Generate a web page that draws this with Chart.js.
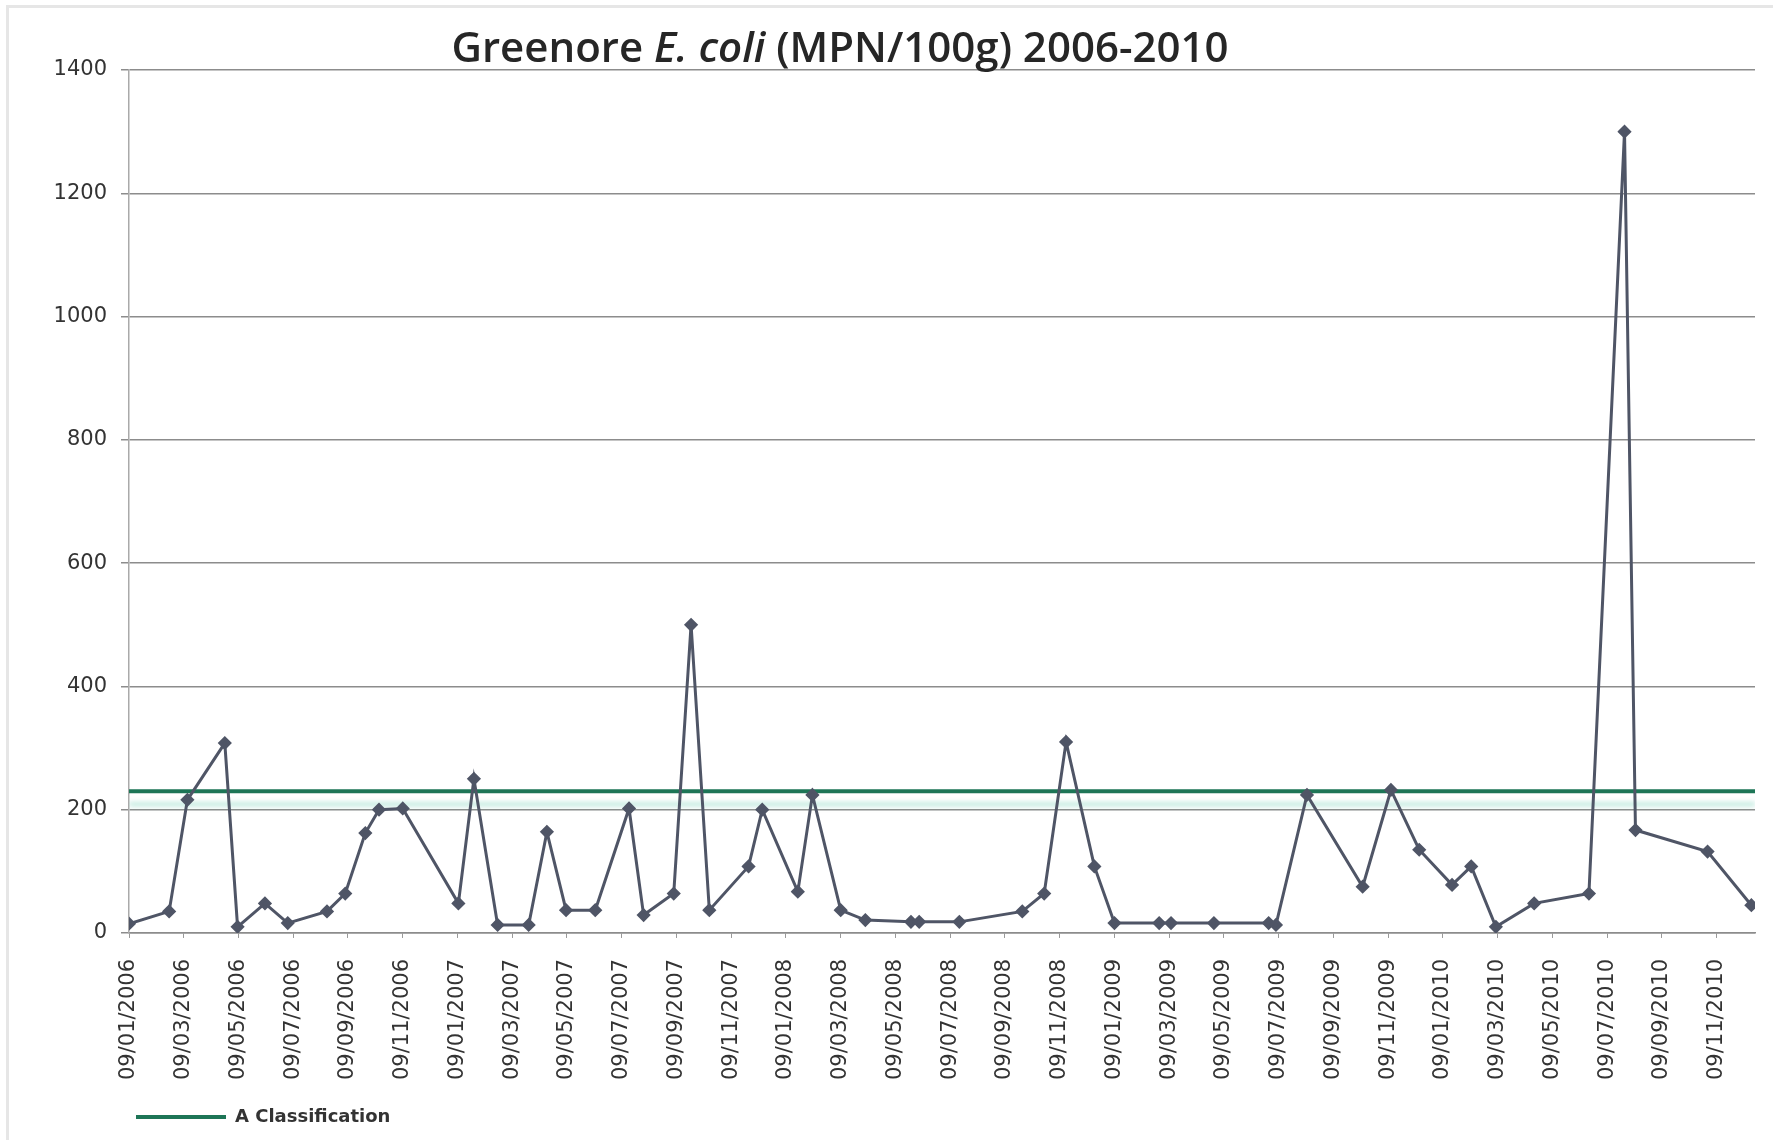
<!DOCTYPE html>
<html>
<head>
<meta charset="utf-8">
<script src="https://cdn.jsdelivr.net/npm/chart.js@4.4.1/dist/chart.umd.min.js"></script>
<style>
  html, body { margin: 0; padding: 0; background: #fff; }
  #wrap { position: relative; width: 1773px; height: 1140px; overflow: hidden; }
  #frame { position: absolute; left: 6px; top: 5px; right: -10px; bottom: -10px;
           border-left: 3px solid #e6e6e6; border-top: 3px solid #e6e6e6; }
  #title { position: absolute; left: 0; width: 1680px; top: 17px; text-align: center;
           font-family: 'Open Sans', sans-serif; font-weight: 600; font-size: 42px;
           color: #262626; white-space: nowrap; }
  canvas { position: absolute; left: 0; top: 0; }
</style>
</head>
<body>
<div id="wrap">
  <div id="frame"></div>
  <canvas id="chart" width="1773" height="1140"></canvas>
  <div id="title">Greenore <i>E. coli</i> (MPN/100g) 2006-2010</div>
</div>
<script>
// Tick labels on the date axis (every 2 months, dd/mm/yyyy)
const tickLabels = [
    '09/01/2006', '09/03/2006', '09/05/2006', '09/07/2006', '09/09/2006', '09/11/2006',
    '09/01/2007', '09/03/2007', '09/05/2007', '09/07/2007', '09/09/2007', '09/11/2007',
    '09/01/2008', '09/03/2008', '09/05/2008', '09/07/2008', '09/09/2008', '09/11/2008',
    '09/01/2009', '09/03/2009', '09/05/2009', '09/07/2009', '09/09/2009', '09/11/2009',
    '09/01/2010', '09/03/2010', '09/05/2010', '09/07/2010', '09/09/2010', '09/11/2010'
];
const axisEndDate = '21/12/2010';

// Sample dates (approximate)
const sampleDates = [
    '09/01/2006', '23/02/2006', '13/03/2006', '24/04/2006', '08/05/2006', '08/06/2006',
    '03/07/2006', '16/08/2006', '06/09/2006', '28/09/2006', '13/10/2006', '09/11/2006',
    '10/01/2007', '27/01/2007', '23/02/2007', '27/03/2007', '17/04/2007', '08/05/2007',
    '10/06/2007', '17/07/2007', '03/08/2007', '06/09/2007', '25/09/2007', '15/10/2007',
    '28/11/2007', '13/12/2007', '22/01/2008', '08/02/2008', '09/03/2008', '06/04/2008',
    '26/05/2008', '05/06/2008', '19/07/2008', '28/09/2008', '22/10/2008', '16/11/2008',
    '17/12/2008', '09/01/2009', '28/02/2009', '11/03/2009', '28/04/2009', '28/06/2009',
    '06/07/2009', '10/08/2009', '11/10/2009', '12/11/2009', '13/12/2009', '19/01/2010',
    '10/02/2010', '07/03/2010', '19/04/2010', '19/06/2010', '28/07/2010', '10/08/2010',
    '29/10/2010', '17/12/2010'
];
// E. coli results, MPN/100g
const ecoli = [
    15, 35, 216, 308, 10, 48,
    16, 35, 64, 162, 200, 202,
    48, 250, 13, 13, 164, 37,
    37, 202, 29, 64, 500, 37,
    108, 200, 67, 224, 37, 21,
    18, 18, 18, 35, 64, 310,
    108, 16, 16, 16, 16, 16,
    13, 224, 75, 232, 135, 78,
    108, 10, 48, 64, 1300, 167,
    132, 45
];
const classLimit = 230; // A classification threshold

// months since 09/01/2006
function monthsFromStart(str) {
    const [d, m, y] = str.split('/').map(Number);
    return (y - 2006) * 12 + (m - 1) + (d - 9) / 30;
}

const tickPos = tickLabels.map(monthsFromStart);
const axisEnd = monthsFromStart(axisEndDate);

// light shadow under the classification line
const lineGlow = {
    id: 'lineGlow',
    beforeDatasetDraw(chart, args) {
        if(args.index === 1) {
            const c = chart.ctx;
            c.save();
            c.shadowColor = 'rgba(120,210,185,0.5)';
            c.shadowOffsetY = 13;
            c.shadowBlur = 5;
        }
    },
    afterDatasetDraw(chart, args) {
        if(args.index === 1) chart.ctx.restore();
    }
};

const tickFont = { family: 'DejaVu Sans', size: 21 };

new Chart(document.getElementById('chart').getContext('2d'), {
    type: 'line',
    data: {
        datasets: [
            {
                label: 'E. coli',
                data: sampleDates.map((d, i) => ({ x: monthsFromStart(d), y: ecoli[i] })),
                borderColor: '#4f5566',
                backgroundColor: '#4f5566',
                borderWidth: 3,
                pointStyle: 'rectRot',
                pointRadius: 5,
                tension: 0
            },
            {
                label: 'A Classification',
                data: [{ x: 0, y: classLimit }, { x: axisEnd, y: classLimit }],
                borderColor: '#1d7556',
                backgroundColor: '#1d7556',
                borderWidth: 4,
                pointRadius: 0
            }
        ]
    },
    options: {
        responsive: false,
        animation: false,
        layout: { padding: { left: 30, right: 18, top: 70, bottom: 4 } },
        plugins: {
            tooltip: { enabled: false },
            legend: {
                position: 'bottom',
                align: 'start',
                fullSize: false,
                labels: {
                    boxWidth: 90,
                    boxHeight: 4,
                    padding: 7,
                    color: '#333',
                    font: { family: 'DejaVu Sans', size: 18, weight: 'bold' },
                    generateLabels: chart => Chart.defaults.plugins.legend.labels.generateLabels(chart)
                        .filter(it => it.datasetIndex === 1)
                        .map(it => ({ ...it, lineWidth: 0 }))
                }
            }
        },
        scales: {
            x: {
                type: 'linear',
                min: 0,
                max: axisEnd,
                afterBuildTicks: s => { s.ticks = tickPos.map(v => ({ value: v })); },
                ticks: {
                    autoSkip: false,
                    minRotation: 90,
                    maxRotation: 90,
                    padding: 21,
                    color: '#333',
                    font: tickFont,
                    callback: (v, i) => tickLabels[i]
                },
                grid: { drawOnChartArea: false, tickLength: 5, color: '#999' },
                border: { color: '#8c8c8c', width: 1.5 }
            },
            y: {
                min: 0,
                max: 1400,
                afterFit: s => { s.width = 99; },
                ticks: {
                    stepSize: 200,
                    padding: 14,
                    color: '#333',
                    font: tickFont,
                    callback: v => v
                },
                grid: { color: '#8c8c8c', lineWidth: 1.5, tickLength: 8 },
                border: { color: '#aaa', width: 1.5 }
            }
        }
    },
    plugins: [lineGlow]
});
</script>
</body>
</html>
